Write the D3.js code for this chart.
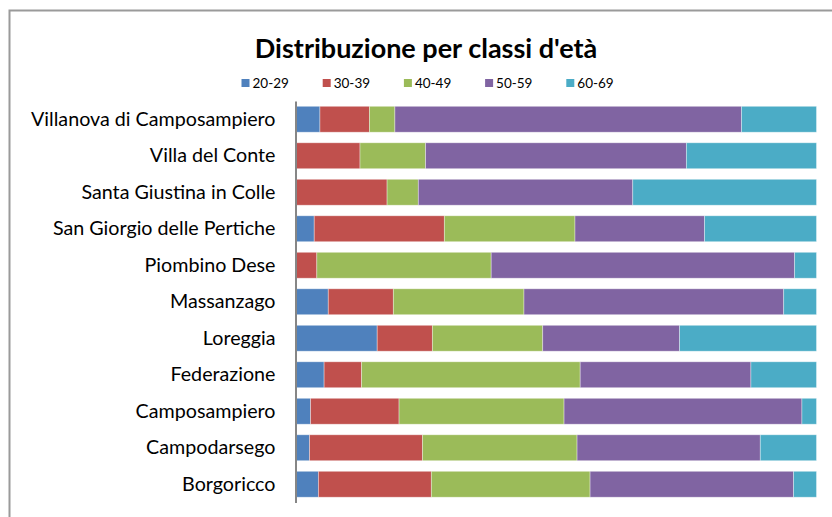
<!doctype html>
<html>
  <head>
    <title>Distribuzione per classi d'età</title>
    <style>
      body { margin: 0; background: #fff; }
      text { font-family: Lato, "Open Sans", sans-serif; fill: #000; }
      #title { font-weight: bold; }
    </style>
  </head>
  <body>
    <div id="content"></div>
    <script src="https://d3js.org/d3.v7.min.js"></script>
    <script>
      const categories = [
        'Villanova di Camposampiero', 'Villa del Conte', 'Santa Giustina in Colle',
        'San Giorgio delle Pertiche', 'Piombino Dese', 'Massanzago', 'Loreggia',
        'Federazione', 'Camposampiero', 'Campodarsego', 'Borgoricco'
      ];
      const ageGroups = ['20-29', '30-39', '40-49', '50-59', '60-69'];

      // percentuali, stesso ordine di categories
      const s2029 = [4.6, 0, 0, 3.5, 0, 6.2, 15.6, 5.4, 2.8, 2.6, 4.3];
      const s3039 = [9.5, 12.3, 17.5, 25.0, 4.0, 12.5, 10.6, 7.2, 17.0, 21.7, 21.7];
      const s4049 = [4.9, 12.6, 6.0, 25.1, 33.5, 25.1, 21.2, 42.0, 31.7, 29.7, 30.5];
      const s5059 = [66.6, 50.1, 41.2, 24.9, 58.3, 49.9, 26.3, 32.8, 45.7, 35.2, 39.1];
      const s6069 = [14.4, 25.0, 35.3, 21.5, 4.2, 6.3, 26.3, 12.6, 2.8, 10.8, 4.4];

      const colors = ['#4F81BD', '#C0504D', '#9BBB59', '#8064A2', '#4BACC6'];

      const width = 832, height = 517;
      const plot = {left: 296, right: 816.5, top: 101, bottom: 502.5};

      const rows = categories.map((name, i) => ({
        name,
        '20-29': s2029[i], '30-39': s3039[i], '40-49': s4049[i],
        '50-59': s5059[i], '60-69': s6069[i]
      }));

      const stacked = d3.stack()
        .keys(ageGroups)
        .offset(d3.stackOffsetExpand)(rows);

      const x = d3.scaleLinear([0, 1], [plot.left, plot.right]);
      const y = d3.scaleBand(categories, [plot.top, plot.bottom])
        .paddingInner(0.29)
        .paddingOuter(0.145);
      const color = d3.scaleOrdinal(ageGroups, colors);

      const svg = d3.select('#content')
        .append('svg')
        .attr('width', width)
        .attr('height', height);

      // cornice del grafico
      svg.append('rect')
        .attr('x', 9.5)
        .attr('y', 10.5)
        .attr('width', 840)
        .attr('height', 520)
        .attr('fill', 'none')
        .attr('stroke', '#9a9a9a')
        .attr('stroke-width', 2);

      svg.append('text')
        .attr('id', 'title')
        .attr('x', 426)
        .attr('y', 58)
        .attr('text-anchor', 'middle')
        .style('font-size', '27px')
        .text("Distribuzione per classi d'età");

      const legend = svg.append('g')
        .selectAll('g')
        .data(ageGroups)
        .join('g')
        .attr('transform', (d, i) => `translate(${241.5 + i * 81.2}, 79)`);
      legend.append('rect')
        .attr('width', 8)
        .attr('height', 8)
        .attr('fill', d => color(d));
      legend.append('text')
        .attr('x', 11)
        .attr('y', 8.5)
        .style('font-size', '13.5px')
        .text(d => d);

      svg.append('g')
        .selectAll('g')
        .data(stacked)
        .join('g')
        .attr('fill', d => color(d.key))
        .selectAll('rect')
        .data(d => d)
        .join('rect')
        .attr('x', d => x(d[0]))
        .attr('y', d => y(d.data.name))
        .attr('width', d => x(d[1]) - x(d[0]))
        .attr('height', y.bandwidth())
        .attr('stroke', 'rgba(255,255,255,0.45)')
        .attr('stroke-width', 0.8);

      const yAxis = svg.append('g')
        .attr('transform', `translate(${plot.left - 0.5}, 0)`)
        .call(d3.axisLeft(y).tickSize(0).tickPadding(20));
      yAxis.select('.domain')
        .attr('stroke', '#868686')
        .attr('stroke-width', 2);
      yAxis.selectAll('text')
        .style('font-size', '19.7px')
        .attr('fill', '#000');
    </script>
  </body>
</html>
